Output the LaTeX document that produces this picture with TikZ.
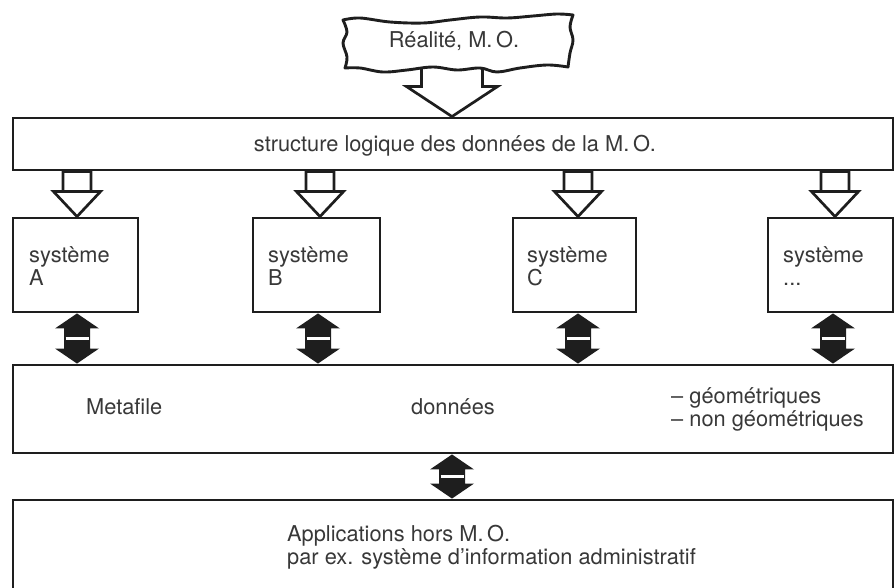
\documentclass[tikz,border=0pt]{standalone}
\usepackage{fontspec}
\setmainfont{TeX Gyre Heros}
\usetikzlibrary{calc}
\definecolor{ink}{HTML}{1E1E1E}
\definecolor{txt}{HTML}{383838}
\newcommand\hollowdown[3]{%
  \draw[hollow] let \p1=(#3.north -| #1), \p2=(#2.south -| #1) in
    (\x1,\y1) -- (\x1-23.5pt,\y1+25pt) -- (\x1-14pt,\y1+25pt) -- (\x1-14pt,\y2)
    -- (\x1+14pt,\y2) -- (\x1+14pt,\y1+25pt) -- (\x1+23.5pt,\y1+25pt) -- cycle
    (\x1-14pt,\y1+25pt) -- (\x1+14pt,\y1+25pt);}
\newcommand\dblarrow[3]{%
  \fill[ink] let \p1=(#2.south -| #1), \p2=(#3.north -| #1) in
    (\x1,\y1) -- (\x1+22pt,\y1-15pt) -- (\x1+13pt,\y1-15pt) -- (\x1+13pt,\y2+15pt)
    -- (\x1+22pt,\y2+15pt) -- (\x1,\y2) -- (\x1-22pt,\y2+15pt) -- (\x1-13pt,\y2+15pt)
    -- (\x1-13pt,\y1-15pt) -- (\x1-22pt,\y1-15pt) -- cycle;
  \draw[bar] let \p1=(#2.south -| #1), \p2=(#3.north -| #1) in
    (\x1-11.5pt,{(\y1+\y2)/2}) -- (\x1+11.5pt,{(\y1+\y2)/2});}
\begin{document}
\begin{tikzpicture}[x=1pt,y=-1pt,
  every node/.style={font=\fontsize{21.8}{23}\selectfont, text=txt, inner sep=0pt},
  box/.style={draw=ink, line width=2.9pt, rectangle, inner sep=0pt},
  hollow/.style={draw=ink, line width=2.7pt, fill=white, line join=miter},
  bar/.style={draw=white, line width=2.4pt},
  wavy/.style={draw=ink, line width=2.9pt, fill=white, line join=round}
]
\useasboundingbox (0,0) rectangle (896,588);
\clip (0,0) rectangle (896,588);

% boxes
\node[box, minimum width=880, minimum height=52] (S) at (453,144) {};
\node[box, minimum width=125, minimum height=94] (A) at (75.5,265) {};
\node[box, minimum width=127, minimum height=94] (B) at (316.5,265) {};
\node[box, minimum width=123, minimum height=94] (C) at (574.5,265) {};
\node[box, minimum width=125, minimum height=94] (D) at (830.5,265) {};
\node[box, minimum width=880, minimum height=88] (M) at (453,409) {};
\node[box, minimum width=880, minimum height=120] (P) at (453,560) {};

% texts (base anchor of a multi-line node = last line's baseline)
\node[anchor=base] (tS) at (455,152) {structure logique des données de la M.\,O.};
\node[anchor=base west, align=left] (tA) at (29,285) {système\\A};
\node[anchor=base west, align=left] (tB) at (268,285) {système\\B};
\node[anchor=base west, align=left] (tC) at (527,285) {système\\C};
\node[anchor=base west, align=left] (tD) at (783,285) {système\\...};
\node[anchor=base west] (tM) at (86,414) {Metafile};
\node[anchor=base] (tDo) at (453,414) {données};
\node[anchor=base west, align=left] (tG) at (671,426) {– géométriques\\– non géométriques};
\node[anchor=base west, align=left] (tP) at (287,564) {Applications hors M.\,O.\\par ex. système d’information administratif};

% column x positions
\coordinate (hA) at (77,0);  \coordinate (dA) at (77,0);
\coordinate (hB) at (320,0); \coordinate (dB) at (318,0);
\coordinate (hC) at (578,0); \coordinate (dC) at (578,0);
\coordinate (hD) at (835,0); \coordinate (dD) at (833,0);
\coordinate (dM) at (452,0);

\hollowdown{hA}{S}{A}
\hollowdown{hB}{S}{B}
\hollowdown{hC}{S}{C}
\hollowdown{hD}{S}{D}

\dblarrow{dA}{A}{M}
\dblarrow{dB}{B}{M}
\dblarrow{dC}{C}{M}
\dblarrow{dD}{D}{M}
\dblarrow{dM}{M}{P}

% big hollow arrow from reality
\coordinate (Rb) at (452,60);
\draw[hollow] let \p1=(S.north -| Rb), \p2=(Rb) in
  (\x1,\y1) -- (\x1-45.5pt,\y1+30pt) -- (\x1-30.5pt,\y1+30pt) -- (\x1-30.5pt,\y2)
  -- (\x1+30.5pt,\y2) -- (\x1+30.5pt,\y1+30pt) -- (\x1+45.5pt,\y1+30pt) -- cycle;

% wavy reality box
\draw[wavy]
  plot[smooth, tension=0.6] coordinates {(343,20) (360,18) (390,22) (423,23) (450,20) (480,17) (507,18) (533,16) (557,14) (573,15)}
  -- plot[smooth, tension=0.6] coordinates {(573,15) (570,27) (573,40) (570,53) (568,67)}
  -- plot[smooth, tension=0.6] coordinates {(568,67) (547,65) (520,68) (497,72) (480,68) (457,70) (433,67) (407,70) (383,72) (360,68) (345,68)}
  -- plot[smooth, tension=0.6] coordinates {(345,68) (347,57) (343,43) (347,32) (343,20)}
  -- cycle;
\node[anchor=base] (R) at (454,48) {Réalité, M.\,O.};
\end{tikzpicture}
\end{document}
